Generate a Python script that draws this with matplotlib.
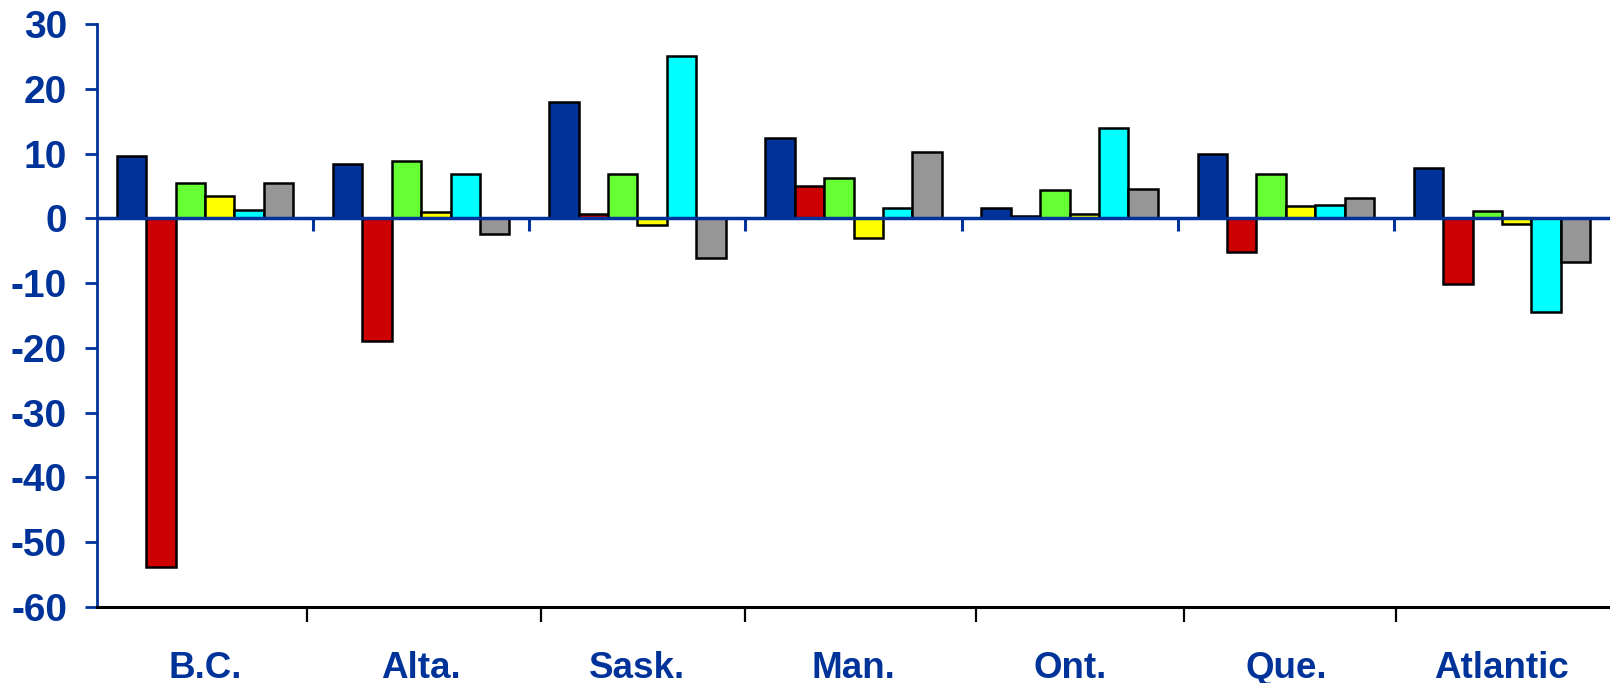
import matplotlib
matplotlib.use("Agg")
import matplotlib.pyplot as plt
import numpy as np

categories = ["B.C.", "Alta.", "Sask.", "Man.", "Ont.", "Que.", "Atlantic"]
s1_blue   = [9.6, 8.4, 17.9, 12.4, 1.6, 9.9, 7.8]
s2_red    = [-53.9, -19.0, 0.7, 5.0, 0.4, -5.2, -10.1]
s3_green  = [5.4, 8.9, 6.9, 6.2, 4.3, 6.9, 1.2]
s4_yellow = [3.4, 1.0, -1.1, -3.0, 0.7, 1.9, -0.9]
s5_cyan   = [1.3, 6.9, 25.0, 1.6, 14.0, 2.1, -14.4]
s6_gray   = [5.4, -2.4, -6.1, 10.2, 4.6, 3.2, -6.8]
series = [s1_blue, s2_red, s3_green, s4_yellow, s5_cyan, s6_gray]
colors = ["#003399", "#CC0000", "#66FF33", "#FFFF00", "#00FFFF", "#969696"]
yticks = [30, 20, 10, 0, -10, -20, -30, -40, -50, -60]
# irregular separator ticks on the bottom axis (as drawn in the source)
bottom_sep_ticks = [0.972, 2.056, 3.0, 4.065, 5.028, 6.009]

BLUE = "#003399"
fig = plt.figure(figsize=(16.1, 6.83), dpi=100)
ax = fig.add_axes([97/1610, 1-607/683, 1-97/1610, (607-24)/683])

n = len(categories)
x = np.arange(n) + 0.5
bw = 0.136
for j, (vals, c) in enumerate(zip(series, colors)):
    ax.bar(x + (j - 2.5) * bw, vals, width=bw, color=c, edgecolor="black",
           linewidth=1.8, zorder=3)

ax.set_xlim(0, n)
ax.set_ylim(-60, 30)

# zero line with separator ticks
ax.axhline(0, color=BLUE, lw=2.5, zorder=4)
ax.vlines(np.arange(1, n), 0, -1.9, color=BLUE, lw=2.2, zorder=4)

for s in ["top", "right"]:
    ax.spines[s].set_visible(False)
ax.spines["left"].set_color(BLUE)
ax.spines["left"].set_linewidth(2)
ax.spines["bottom"].set_color("black")
ax.spines["bottom"].set_linewidth(2.2)

ax.set_yticks(yticks)
ax.set_yticklabels([str(v) for v in yticks])
ax.tick_params(axis="y", direction="out", length=8.6, width=2, color=BLUE,
               labelcolor=BLUE, pad=13)
for lab in ax.get_yticklabels():
    lab.set_fontfamily(["Liberation Sans", "DejaVu Sans"])
    lab.set_fontweight("bold")
    lab.set_fontsize(28)

ax.set_xticks(x)
ax.set_xticklabels(categories)
ax.tick_params(axis="x", which="major", length=0, pad=31.5, labelcolor=BLUE)
for lab in ax.get_xticklabels():
    lab.set_fontfamily(["Liberation Sans", "DejaVu Sans"])
    lab.set_fontweight("bold")
    lab.set_fontsize(26.5)
ax.set_xticks(bottom_sep_ticks, minor=True)
ax.tick_params(axis="x", which="minor", direction="out", length=11, width=1.6,
               color="black")

fig.savefig("out.png", dpi=100)
